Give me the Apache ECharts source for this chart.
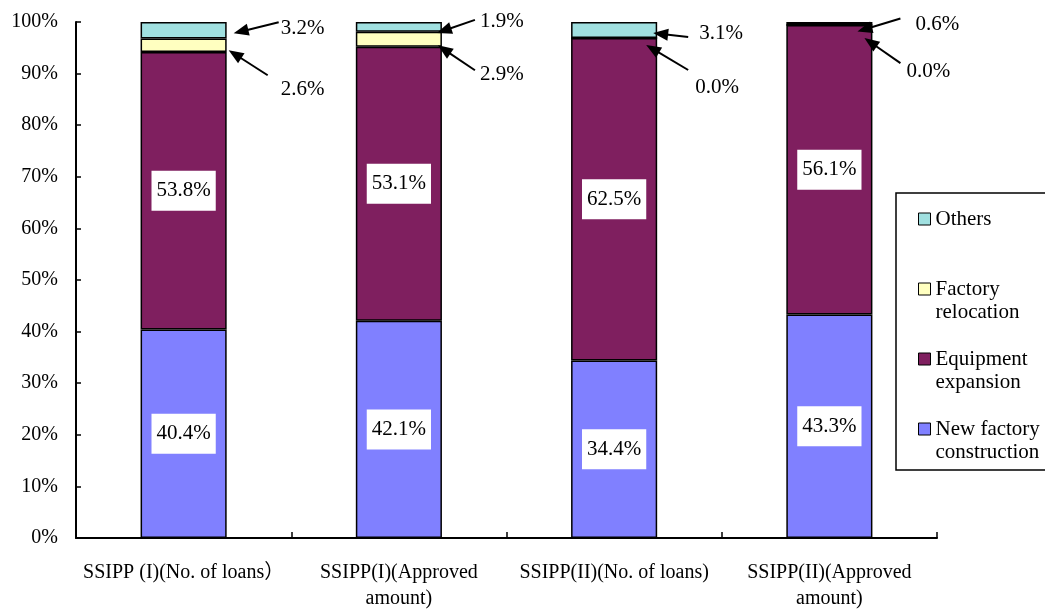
<!DOCTYPE html>
<html><head><meta charset="utf-8">
<script src="https://cdn.jsdelivr.net/npm/echarts@6/dist/echarts.min.js"></script>
<style>html,body{margin:0;padding:0;background:#fff;overflow:hidden}#c{width:1045px;height:609px}</style>
</head><body><div id="c"></div>
<script>
// ---- data ----
const categories = ['SSIPP (I)(No. of loans）', 'SSIPP(I)(Approved\namount)', 'SSIPP(II)(No. of loans)', 'SSIPP(II)(Approved\namount)'];
const newFactory = [40.4, 42.1, 34.4, 43.3];
const equipment = [53.8, 53.1, 62.5, 56.1];
const relocation = [2.6, 2.9, 0.0, 0.0];
const others = [3.2, 1.9, 3.1, 0.6];
const seriesNames = ['New factory construction', 'Equipment expansion', 'Factory relocation', 'Others'];
const legendOrder = ['Others', 'Factory relocation', 'Equipment expansion', 'New factory construction'];
const legendText = {
  'Others': 'Others\n ',
  'Factory relocation': 'Factory\nrelocation',
  'Equipment expansion': 'Equipment\nexpansion',
  'New factory construction': 'New factory\nconstruction'
};

// ---- callout layout (pixel offsets from bar right edge / segment middle) ----
const calloutLayout = [
  { others: { tip: [7, 3], tail: [52, -8], text: [54, -2] }, reloc: { tip: [2, 5], tail: [41, 30], text: [54, 44] } },
  { others: { tip: [-5, 6], tail: [33, -7], text: [38, -5] }, reloc: { tip: [-4, 6], tail: [33, 31], text: [38, 35] } },
  { others: { tip: [-4, 3], tail: [31, 7], text: [42, 3] }, reloc: { tip: [-11, 7], tail: [31, 32], text: [38, 49] } },
  { others: { tip: [-15, 8], tail: [28, -5], text: [43, 1] }, reloc: { tip: [-8, 13], tail: [28, 38], text: [34, 46] } }
];

const colors = ['#8080FF', '#7F1F5F', '#FFFFC0', '#A0E0E0'];
const FONT = '"Liberation Serif", "Noto Sans CJK JP", serif';

const valueSets = [newFactory, equipment, relocation, others];
const barLabel = {
  show: true, position: 'inside', color: '#000', fontFamily: FONT, fontSize: 21, lineHeight: 21,
  backgroundColor: '#fff', padding: [10, 5, 9, 5],
  formatter: p => p.value.toFixed(1) + '%'
};

const barSeries = seriesNames.map((name, k) => ({
  name, type: 'bar', stack: 'total', barWidth: '40%',
  data: valueSets[k],
  itemStyle: { color: colors[k], borderColor: '#000', borderWidth: 1.5 },
  label: k < 2 ? barLabel : { show: false },
  emphasis: { disabled: true },
  z: 2
}));

const calloutData = categories.map((c, i) => [i, newFactory[i], equipment[i], relocation[i], others[i]]);

const calloutSeries = {
  type: 'custom', name: 'callouts', clip: false, z: 5, silent: true,
  encode: { x: 0, y: 1 },
  data: calloutData,
  renderItem(params, api) {
    const i = api.value(0);
    const nv = api.value(1), ev = api.value(2), rv = api.value(3), ov = api.value(4);
    const cx = api.coord([i, 0])[0];
    const half = api.size([1, 0])[0] * 0.4 / 2;
    const edge = cx + half;
    const children = [];
    const items = [
      { mid: nv + ev + rv + ov / 2, v: ov, lay: calloutLayout[i].others },
      { mid: nv + ev + rv / 2, v: rv, lay: calloutLayout[i].reloc }
    ];
    items.forEach(it => {
      const my = api.coord([i, it.mid])[1];
      const tip = [edge + it.lay.tip[0], my + it.lay.tip[1]];
      const tail = [edge + it.lay.tail[0], my + it.lay.tail[1]];
      const dx = tip[0] - tail[0], dy = tip[1] - tail[1];
      const len = Math.hypot(dx, dy) || 1;
      const ux = dx / len, uy = dy / len;
      const hl = 15, hw = 6;
      const base = [tip[0] - ux * hl, tip[1] - uy * hl];
      children.push({ type: 'line', shape: { x1: tail[0], y1: tail[1], x2: base[0] + ux * 2, y2: base[1] + uy * 2 }, style: { stroke: '#000', lineWidth: 2 } });
      children.push({ type: 'polygon', shape: { points: [tip, [base[0] - uy * hw, base[1] + ux * hw], [base[0] + uy * hw, base[1] - ux * hw]] }, style: { fill: '#000' } });
      children.push({ type: 'text', x: edge + it.lay.text[0], y: my + it.lay.text[1],
        style: { text: it.v.toFixed(1) + '%', fontFamily: FONT, fontSize: 21, fill: '#000', verticalAlign: 'middle', align: 'left' } });
    });
    return { type: 'group', children };
  }
};

const chart = echarts.init(document.getElementById('c'), null, { renderer: 'canvas' });
chart.setOption({
  animation: false,
  backgroundColor: '#fff',
  grid: { left: 76, right: 108, top: 22, bottom: 71, containLabel: false, outerBoundsMode: 'none' },
  graphic: [{
    type: 'polyline', z: 1, silent: true,
    shape: { points: [[1100, 193], [896, 193], [896, 470], [1100, 470]] },
    style: { fill: null, stroke: '#000', lineWidth: 1.5 }
  }],
  legend: {
    orient: 'vertical', left: 896, top: 193, z: 10,
    data: legendOrder,
    formatter: n => legendText[n],
    icon: 'path://M0,0L12,0L12,12L0,12Z M12,36',
    itemWidth: 12, itemHeight: 36, itemGap: 24,
    padding: [15, 8, 6, 22],
    borderWidth: 0,
    backgroundColor: 'transparent',
    itemStyle: { borderColor: '#000', borderWidth: 1 },
    textStyle: { fontFamily: FONT, fontSize: 21, lineHeight: 23, color: '#000' },
    selectedMode: false
  },
  xAxis: {
    type: 'category', data: categories,
    axisLine: { lineStyle: { color: '#000', width: 2 } },
    axisTick: { show: true, inside: true, length: 6, lineStyle: { color: '#000', width: 1.5 } },
    axisLabel: { color: '#000', fontFamily: FONT, fontSize: 20, lineHeight: 26, margin: 22, interval: 0 },
    splitLine: { show: false }
  },
  yAxis: {
    type: 'value', min: 0, max: 100, interval: 10,
    axisLine: { show: true, lineStyle: { color: '#000', width: 2 } },
    axisTick: { show: true, inside: true, length: 5, lineStyle: { color: '#000', width: 1.5 } },
    axisLabel: { color: '#000', fontFamily: FONT, fontSize: 20, margin: 18, padding: [4, 0, 0, 0], formatter: '{value}%' },
    splitLine: { show: false }
  },
  series: [...barSeries, calloutSeries]
});
</script></body></html>
